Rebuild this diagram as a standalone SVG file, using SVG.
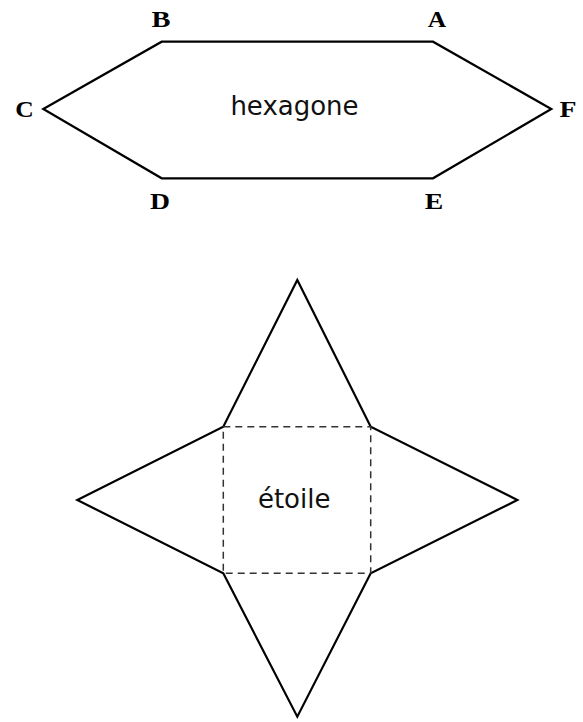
<svg xmlns="http://www.w3.org/2000/svg" width="583" height="722" viewBox="0 0 583 722">
<style>
.shape{fill:none;stroke:#000;stroke-width:2.2;stroke-linejoin:miter}
.dash{fill:none;stroke:#333;stroke-width:1.5;stroke-dasharray:7 5}
.lbl{font-family:"Liberation Serif","Times New Roman",serif;font-weight:bold;font-size:23px;fill:#000;text-anchor:middle}
.name{font-family:"DejaVu Sans","Liberation Sans",sans-serif;font-size:26px;fill:#111;text-anchor:middle}
</style>
<rect width="583" height="722" fill="#fff"/>
<g id="hexagone">
<polygon class="shape" points="43.3,109 161.7,41.7 433,41.7 551.3,109 433,178.3 161.7,178.3"/>
<text class="name" x="294.5" y="115">hexagone</text>
<text class="lbl" x="161" y="27.3" textLength="19" lengthAdjust="spacingAndGlyphs">B</text>
<text class="lbl" x="437" y="26.7" textLength="18.5" lengthAdjust="spacingAndGlyphs">A</text>
<text class="lbl" x="24.5" y="116.5" textLength="18.5" lengthAdjust="spacingAndGlyphs">C</text>
<text class="lbl" x="568" y="116.5" textLength="17" lengthAdjust="spacingAndGlyphs">F</text>
<text class="lbl" x="160" y="209" textLength="20" lengthAdjust="spacingAndGlyphs">D</text>
<text class="lbl" x="434" y="208.5" textLength="18.5" lengthAdjust="spacingAndGlyphs">E</text>
</g>
<g id="etoile">
<polygon class="shape" points="297.3,280 370.7,426.7 517.3,500 370.7,573.3 297.3,716.7 223.3,573.3 77.3,500 223.3,426.7"/>
<rect class="dash" x="223.3" y="426.7" width="147.4" height="146.6"/>
<text class="name" x="294.2" y="508.3">étoile</text>
</g>
</svg>
